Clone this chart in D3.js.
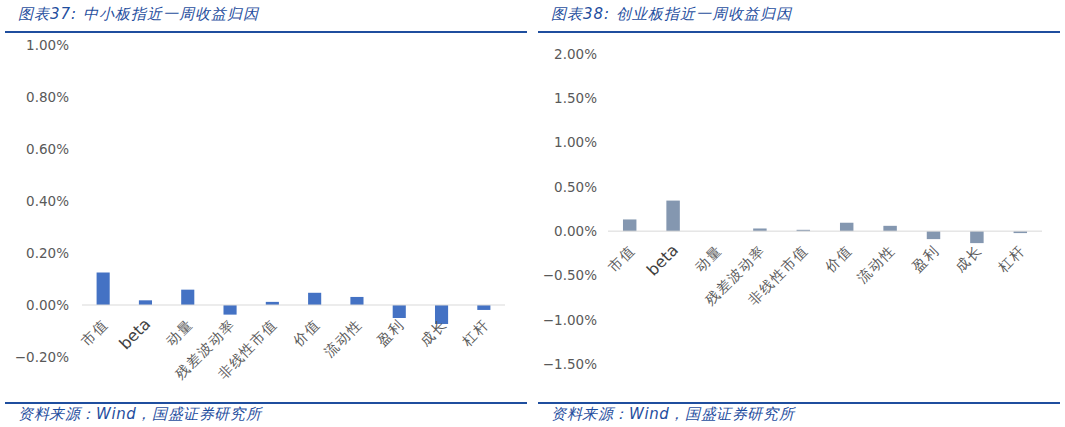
<!DOCTYPE html>
<html>
<head>
<meta charset="utf-8">
<script src="https://cdn.jsdelivr.net/npm/d3@7"></script>
<style>
  body { margin: 0; background: #fff; }
  svg text { font-family: "DejaVu Sans", sans-serif; }
</style>
</head>
<body>
<svg id="chart" width="1065" height="427"></svg>
<script>
/////// Data ///////

var categories = ["市值", "beta", "动量", "残差波动率", "非线性市值", "价值", "流动性", "盈利", "成长", "杠杆"];

// 中小板指 weekly attribution, in %
var smeValues = [0.125, 0.018, 0.059, -0.037, 0.012, 0.047, 0.031, -0.05, -0.073, -0.019];
var smeTicks = [-0.2, 0, 0.2, 0.4, 0.6, 0.8, 1.0];

// 创业板指 weekly attribution, in %
var gemValues = [0.132, 0.345, 0.0, 0.03, 0.015, 0.095, 0.06, -0.09, -0.135, -0.022];
var gemTicks = [-1.5, -1.0, -0.5, 0, 0.5, 1.0, 1.5, 2.0];

var titles = ["图表37:  中小板指近一周收益归因", "图表38:  创业板指近一周收益归因"];
var sourceText = "资料来源：Wind，国盛证券研究所";

var svg = d3.select("#chart");
var blue = "#1f4e9e";
var cjk = "'Noto Sans CJK SC', sans-serif";

/////// One panel ///////

function panel(p) {
    var g = svg.append("g");

    // title + rules
    g.append("text")
        .attr("x", p.left + 13).attr("y", 19)
        .attr("font-family", cjk).attr("font-style", "italic")
        .attr("font-size", "15px").attr("letter-spacing", "1px").attr("fill", blue)
        .text(p.title);

    g.append("line")
        .attr("x1", p.left).attr("x2", p.right)
        .attr("y1", 32).attr("y2", 32)
        .attr("stroke", blue).attr("stroke-width", 2);

    g.append("line")
        .attr("x1", p.left).attr("x2", p.right)
        .attr("y1", 403).attr("y2", 403)
        .attr("stroke", blue).attr("stroke-width", 2);

    g.append("text")
        .attr("x", p.left + 13).attr("y", 419)
        .attr("font-family", cjk).attr("font-style", "italic")
        .attr("font-size", "15px").attr("letter-spacing", "0.6px").attr("fill", blue)
        .text(sourceText);

    var x = d3.scaleBand().domain(categories).range([p.x0, p.x1]).paddingInner(0.69).paddingOuter(0.345);
    var y = d3.scaleLinear().domain(p.domain).range([p.yBottom, p.yTop]);

    // y labels
    var yAxis = d3.axisLeft(y).tickValues(p.ticks).tickSize(0).tickPadding(0)
        .tickFormat(function(d) { return d3.format(".2f")(d) + "%"; });

    var ya = g.append("g")
        .attr("transform", "translate(" + p.labelX + ",0)")
        .call(yAxis);
    ya.select(".domain").remove();
    ya.selectAll("text")
        .attr("font-family", "'DejaVu Sans', sans-serif")
        .attr("font-size", "13.5px")
        .attr("fill", "#595959");

    // bars
    g.selectAll("rect.bar")
        .data(p.values)
        .enter().append("rect")
        .attr("class", "bar")
        .attr("x", function(d, i) { return x(categories[i]); })
        .attr("width", x.bandwidth())
        .attr("y", function(d) { return y(Math.max(0, d)); })
        .attr("height", function(d) { return Math.abs(y(d) - y(0)); })
        .attr("fill", p.color);

    // zero line
    g.append("line")
        .attr("x1", p.x0).attr("x2", p.x1)
        .attr("y1", y(0)).attr("y2", y(0))
        .attr("stroke", "#d9d9d9").attr("stroke-width", 1);

    // category labels
    g.selectAll("text.cat")
        .data(categories)
        .enter().append("text")
        .attr("class", "cat")
        .attr("transform", function(d) {
            return "translate(" + (x(d) + x.bandwidth() / 2 + 6) + "," + (y(0) + 20) + ") rotate(-45)";
        })
        .attr("text-anchor", "end")
        .attr("font-family", function(d) { return d == "beta" ? "'Liberation Sans', sans-serif" : cjk; })
        .attr("font-size", function(d) { return d == "beta" ? "16px" : "14px"; })
        .attr("letter-spacing", function(d) { return d == "beta" ? "0px" : "1.5px"; })
        .attr("fill", function(d) { return d == "beta" ? "#404040" : "#595959"; })
        .text(function(d) { return d; });
}

panel({
    left: 5, right: 527, title: titles[0],
    x0: 82, x1: 505, yTop: 45, yBottom: 357, labelX: 69,
    domain: [-0.2, 1.0], ticks: smeTicks, values: smeValues, color: "#4472c4"
});

panel({
    left: 538, right: 1060, title: titles[1],
    x0: 608, x1: 1042, yTop: 54, yBottom: 364, labelX: 597,
    domain: [-1.5, 2.0], ticks: gemTicks, values: gemValues, color: "#8497b0"
});
</script>
</body>
</html>
